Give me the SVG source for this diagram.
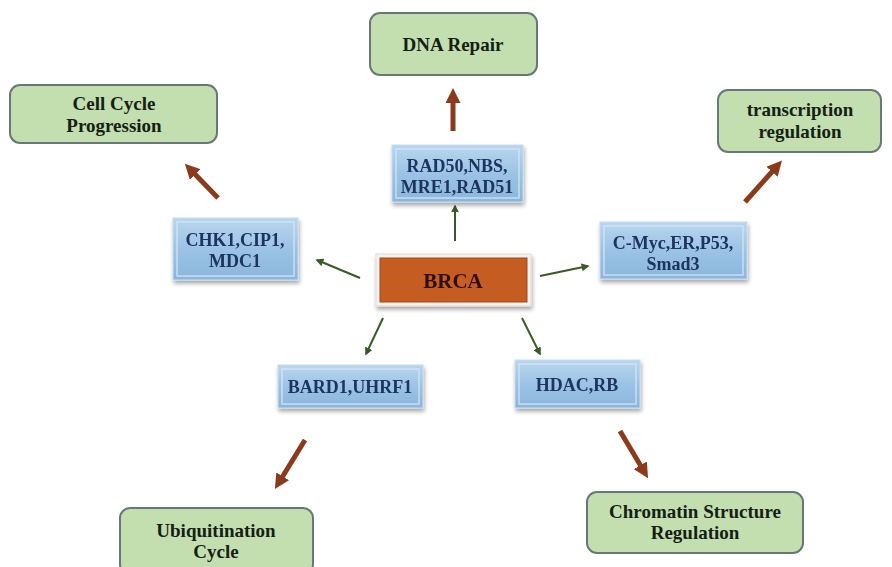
<svg xmlns="http://www.w3.org/2000/svg" width="892" height="567" viewBox="0 0 892 567">
<defs>
<linearGradient id="blueG" x1="0" y1="0" x2="0" y2="1">
<stop offset="0" stop-color="#b9d6ee"/>
<stop offset="0.5" stop-color="#9cc3e5"/>
<stop offset="1" stop-color="#8ab5dc"/>
</linearGradient>
<filter id="sh" x="-10%" y="-10%" width="125%" height="135%">
<feGaussianBlur in="SourceAlpha" stdDeviation="2"/>
<feOffset dx="1" dy="3"/>
<feComponentTransfer><feFuncA type="linear" slope="0.35"/></feComponentTransfer>
<feMerge><feMergeNode/><feMergeNode in="SourceGraphic"/></feMerge>
</filter>
<marker id="ag" viewBox="0 0 10 10" refX="8" refY="5" markerWidth="4" markerHeight="4" orient="auto" markerUnits="strokeWidth">
<path d="M0,0 L10,5 L0,10 z" fill="#3a5828"/>
</marker>
<marker id="ab" viewBox="0 0 10 10" refX="6" refY="5" markerWidth="3" markerHeight="3" orient="auto" markerUnits="strokeWidth">
<path d="M0,0 L10,5 L0,10 z" fill="#8a3b1b"/>
</marker>
</defs>
<style>
.green rect{fill:#c3dfb0;stroke:#687878;stroke-width:2}
.blue .b{fill:url(#blueG);stroke:#c8dcee;stroke-width:1}
.blue .i{fill:none;stroke:#d7e7f5;stroke-width:1.5;opacity:0.8}
.tg{font-family:"Liberation Serif",serif;font-weight:bold;font-size:19px;fill:#152015;text-anchor:middle}
.tb{font-family:"Liberation Serif",serif;font-weight:bold;font-size:18px;fill:#1d3560;text-anchor:middle}
.gl{stroke:#3a5828;stroke-width:2;fill:none;marker-end:url(#ag)}
.bl{stroke:#8a3b1b;stroke-width:5;fill:none;marker-end:url(#ab)}
</style>
<rect width="892" height="567" fill="#ffffff"/>

<g id="connectors">
<line class="gl" x1="455" y1="241" x2="455" y2="206"/>
<line class="gl" x1="360" y1="278" x2="317" y2="260"/>
<line class="gl" x1="540" y1="276" x2="588" y2="266"/>
<line class="gl" x1="383" y1="318" x2="366" y2="354"/>
<line class="gl" x1="522" y1="318" x2="540" y2="354"/>
<line class="bl" x1="453" y1="131" x2="453" y2="94"/>
<line class="bl" x1="218" y1="198" x2="189" y2="168"/>
<line class="bl" x1="745" y1="202" x2="778" y2="165"/>
<line class="bl" x1="305" y1="440" x2="278" y2="484"/>
<line class="bl" x1="620" y1="431" x2="645" y2="473"/>
</g>

<g id="brca" filter="url(#sh)">
<rect x="376" y="254" width="155" height="52" fill="#f4f1ee" stroke="#e0dcd8"/>
<rect x="380" y="258" width="147" height="44" fill="#c55d24" stroke="#a34815"/>
<text x="453" y="288" font-family="Liberation Serif,serif" font-weight="bold" font-size="21" fill="#2e0f08" text-anchor="middle">BRCA</text>
</g>

<g id="rad" class="blue" filter="url(#sh)">
<rect class="b" x="392" y="145" width="131" height="57"/>
<rect class="i" x="396" y="149" width="123" height="49"/>
<text class="tb" x="457" y="172">RAD50,NBS,</text>
<text class="tb" x="457" y="193">MRE1,RAD51</text>
</g>

<g id="chk" class="blue" filter="url(#sh)">
<rect class="b" x="173" y="218" width="125" height="62"/>
<rect class="i" x="177" y="222" width="117" height="54"/>
<text class="tb" x="235" y="246">CHK1,CIP1,</text>
<text class="tb" x="235" y="267">MDC1</text>
</g>

<g id="cmyc" class="blue" filter="url(#sh)">
<rect class="b" x="600" y="222" width="147" height="57"/>
<rect class="i" x="604" y="226" width="139" height="49"/>
<text class="tb" x="673" y="249">C-Myc,ER,P53,</text>
<text class="tb" x="673" y="270">Smad3</text>
</g>

<g id="bard" class="blue" filter="url(#sh)">
<rect class="b" x="278" y="365" width="145" height="43"/>
<rect class="i" x="282" y="369" width="137" height="35"/>
<text class="tb" x="350" y="393">BARD1,UHRF1</text>
</g>

<g id="hdac" class="blue" filter="url(#sh)">
<rect class="b" x="515" y="360" width="125" height="48"/>
<rect class="i" x="519" y="364" width="117" height="40"/>
<text class="tb" x="577" y="391">HDAC,RB</text>
</g>

<g id="dna" class="green">
<rect x="370" y="13" width="167" height="62" rx="10"/>
<text class="tg" x="453" y="51">DNA Repair</text>
</g>

<g id="cellcycle" class="green">
<rect x="10" y="85" width="207" height="58" rx="10"/>
<text class="tg" x="114" y="110">Cell Cycle</text>
<text class="tg" x="114" y="132">Progression</text>
</g>

<g id="transcription" class="green">
<rect x="718" y="90" width="163" height="62" rx="10"/>
<text class="tg" x="800" y="116">transcription</text>
<text class="tg" x="800" y="138">regulation</text>
</g>

<g id="ubiq" class="green">
<rect x="120" y="508" width="193" height="66" rx="10"/>
<text class="tg" x="216" y="537">Ubiquitination</text>
<text class="tg" x="216" y="558">Cycle</text>
</g>

<g id="chromatin" class="green">
<rect x="587" y="492" width="216" height="61" rx="10"/>
<text class="tg" x="695" y="518">Chromatin Structure</text>
<text class="tg" x="695" y="539">Regulation</text>
</g>
</svg>
